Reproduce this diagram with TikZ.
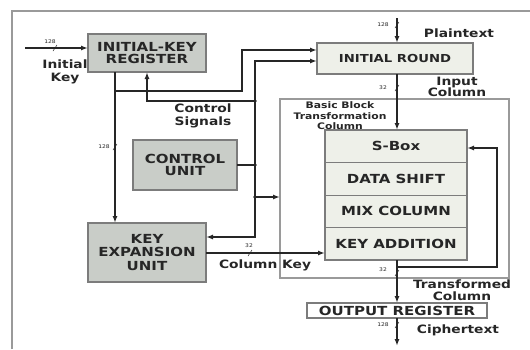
\documentclass[tikz,border=0pt]{standalone}
\usepackage{fontspec}
\setmainfont{DejaVu Sans}[FakeStretch=1.2]
\usetikzlibrary{arrows.meta}
\definecolor{boxgray}{HTML}{C9CDC8}
\definecolor{boxlight}{HTML}{EEF0E9}
\definecolor{edgegray}{HTML}{7C7C7C}
\definecolor{framegray}{HTML}{9A9A9A}
\definecolor{ink}{HTML}{262626}
\begin{document}
\begin{tikzpicture}[x=1pt,y=-1pt,
  every node/.style={inner sep=0pt, outer sep=0pt, text=ink},
  darkbox/.style={draw=edgegray, line width=1.3pt, fill=boxgray, align=center,
    font=\bfseries\fontsize{12.5}{12.5}\selectfont},
  lightbox/.style={draw=edgegray, line width=1.3pt, fill=boxlight, align=center,
    font=\bfseries\fontsize{12.5}{12.5}\selectfont},
  rowbox/.style={lightbox, line width=1pt, minimum width=142pt, minimum height=32.5pt},
  lbl/.style={align=center, font=\bfseries\fontsize{11.5}{13}\selectfont},
  bits/.style={font=\fontsize{5}{5}\selectfont},
  wire/.style={draw=ink, line width=1.4pt},
  tip/.style={-{Latex[length=7pt,width=5pt]}},
  slash/.style={draw=ink, line width=0.5pt},
  dot/.style={fill=ink}
]
\useasboundingbox (0,0) rectangle (530,349);
\fill[white] (0,0) rectangle (530,349);

% outer border
\draw[framegray, line width=1.5pt] (12,349) -- (12,11) -- (530,11);

% basic block transformation frame
\node[draw=framegray, line width=1.2pt, minimum width=229pt, minimum height=179pt] (bbt) at (394.5,188.5) {};

% blocks
\node[darkbox, minimum width=118pt, minimum height=38pt] (ikr) at (147,53) {INITIAL-KEY\\REGISTER};
\node[darkbox, minimum width=104pt, minimum height=50pt] (cu) at (185,165) {CONTROL\\UNIT};
\node[darkbox, minimum width=118pt, minimum height=59pt, font=\bfseries\fontsize{12.5}{13.5}\selectfont] (keu) at (147,252.5) {KEY\\EXPANSION\\UNIT};
\node[lightbox, minimum width=156pt, minimum height=31pt, font=\bfseries\fontsize{11}{11}\selectfont] (ir) at (395,58.5) {INITIAL ROUND};

\node[rowbox] (sbox) at (396,146.25) {S-Box};
\node[rowbox] (dshift) at (396,178.75) {DATA SHIFT};
\node[rowbox] (mixc) at (396,211.25) {MIX COLUMN};
\node[rowbox] (kadd) at (396,243.75) {KEY ADDITION};
\draw[edgegray, line width=1.3pt] (sbox.north west) rectangle (kadd.south east);

\node[lightbox, fill=white, minimum width=180pt, minimum height=15pt] (outr) at (397,310.5) {OUTPUT REGISTER};

% text labels
\node[lbl] (lkey) at (65,72) {Initial\\Key};
\node[lbl] (lctl) at (203,116) {Control\\Signals};
\node[lbl] (lpt) at (459,33) {Plaintext};
\node[lbl, font=\bfseries\fontsize{11.5}{11.5}\selectfont] (lin) at (457,87) {Input\\Column};
\node[align=center, font=\bfseries\fontsize{9}{10.5}\selectfont] (lbb) at (340,116) {Basic Block\\Transformation\\Column};
\node[lbl] (lck) at (265,265) {Column Key};
\node[lbl, font=\bfseries\fontsize{11.5}{12}\selectfont] (ltc) at (462,290) {Transformed\\Column};
\node[lbl] (lct) at (458,330) {Ciphertext};

% helper coordinates
\coordinate (keyin) at (25,48);
\coordinate (kx) at (115,0);
\coordinate (tap) at (115,91);
\coordinate (jog) at (242,50);
\coordinate (bt) at (255,61);
\coordinate (bb) at (255,237);
\coordinate (cs) at (255,101);
\coordinate (br) at (255,197);
\coordinate (cky) at (0,253);
\coordinate (sx) at (397,0);
\coordinate (fb) at (397,267);
\coordinate (fr) at (497,148);
\coordinate (ptin) at (397,18);
\coordinate (ctout) at (397,346);

% key path
\draw[wire,tip] (keyin) -- (keyin -| ikr.west);
\draw[wire,tip] (ikr.south -| kx) -- (keu.north -| kx);
\draw[wire,tip] (tap) -| (jog) -- (jog -| ir.west);

% control signal bus
\draw[wire,{Latex[length=7pt,width=5pt]}-{Latex[length=7pt,width=5pt]}] (ir.west |- bt) -- (bt) -- (bb) -- (bb -| keu.east);
\draw[wire,tip] (cs) -| (ikr.south);
\draw[wire] (cu.east) -- (cu.east -| bt);
\draw[wire,tip] (br) -- (br -| bbt.west);
\fill[dot] (cs) circle (1.8pt);
\fill[dot] (cu.east -| bt) circle (1.8pt);
\fill[dot] (br) circle (1.8pt);

% data path
\draw[wire,tip] (ptin) -- (ir.north -| ptin);
\draw[wire,tip] (ir.south -| sx) -- (sbox.north -| sx);
\draw[wire,tip] (keu.east |- cky) -- (kadd.west |- cky);
\draw[wire,tip] (kadd.south -| sx) -- (outr.north -| sx);
\draw[wire,tip] (fb) -| (fr) -- (fr -| sbox.east);
\draw[wire,tip] (outr.south -| ctout) -- (ctout);

% bus width marks
\draw[slash] (53,51) -- ++(4,-6);
\node[bits] (b1) at (50,42) {128};
\draw[slash] (113,150) -- ++(4,-6);
\node[bits] (b2) at (104,147) {128};
\draw[slash] (395,28) -- ++(4,-6);
\node[bits] (b3) at (383,25) {128};
\draw[slash] (395,91) -- ++(4,-6);
\node[bits] (b4) at (383,88) {32};
\draw[slash] (248,256) -- ++(4,-6);
\node[bits] (b5) at (249,246) {32};
\draw[slash] (395,276) -- ++(4,-6);
\node[bits] (b6) at (383,270) {32};
\draw[slash] (395,328) -- ++(4,-6);
\node[bits] (b7) at (383,325) {128};
\end{tikzpicture}
\end{document}
